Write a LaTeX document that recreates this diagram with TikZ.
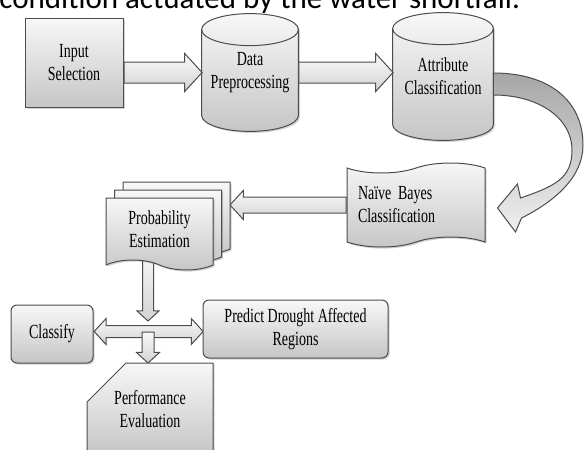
\documentclass[tikz,border=0pt]{standalone}
\usepackage{fontspec}
\setmainfont{Liberation Serif}[FakeStretch=0.7]
\newfontfamily\notefont{Carlito}
\usetikzlibrary{shapes.geometric, shapes.symbols, shapes.arrows, shapes.misc, calc, shadows, backgrounds}
\tikzset{
  shade/.style={draw=black!70, line width=0.5pt, top color=gray!6, bottom color=gray!45,
    drop shadow={shadow xshift=0.8pt, shadow yshift=-0.8pt, opacity=0.35}},
  box/.style={shade, font=\fontsize{10}{11.5}\selectfont, align=center, inner sep=2pt},
  rbox/.style={box, rectangle, rounded corners=3pt},
  drum/.style={rectangle, font=\fontsize{10}{11.5}\selectfont, align=center, inner sep=0pt},
  wave/.style={box, tape, tape bend height=5pt},
  page/.style={wave, tape bend top=none, tape bend bottom=out and in, minimum width=53.5pt, minimum height=36pt},
  blk/.style={single arrow, draw=black!70, line width=0.5pt, top color=gray!4, bottom color=gray!35,
    inner xsep=0pt, single arrow tip angle=95},
  dblk/.style={double arrow, draw=black!70, line width=0.5pt, top color=gray!4, bottom color=gray!35,
    inner xsep=0pt, double arrow tip angle=95},
  curl/.style={draw=black!70, line width=0.5pt, top color=gray!70, bottom color=gray!12}
}
\newcommand\drumshape[1]{%
  \path[shade] let \p1=(#1.north west), \p2=(#1.south east), \n1={(\x2-\x1)/2} in
    (\x1,\y1-8pt) -- (\x1,\y2+8pt) arc[start angle=180, end angle=360, x radius=\n1, y radius=8pt]
    -- (\x2,\y1-8pt) arc[start angle=0, end angle=180, x radius=\n1, y radius=8pt] -- cycle;
  \path[draw=black!70, line width=0.5pt] let \p1=(#1.north west), \p2=(#1.north east), \n1={(\x2-\x1)/2} in
    (\x1,\y1-8pt) arc[start angle=180, end angle=360, x radius=\n1, y radius=8pt];}
\newcommand\blockarrow[3][]{%
  \path let \p1=(#2), \p2=(#3), \n1={veclen(\x2-\x1,\y2-\y1)}, \n2={atan2(\y2-\y1,\x2-\x1)}
    in node[blk, #1, minimum height=\n1, rotate=\n2, anchor=tail] at (\p1) {};}

\begin{document}
\begin{tikzpicture}[x=0.5pt, y=-0.5pt]
  \useasboundingbox (0,0) rectangle (584,450);
  \node[anchor=base west, inner sep=0pt, font=\notefont\fontsize{15.5}{18}\selectfont] (note) at (-1,8)
    {condition actuated by the water shortfall.};
  \node[box, rectangle, minimum width=49pt, minimum height=44.5pt] (inp) at (74,62.5) {Input\\Selection};
  \node[drum, minimum width=48pt, minimum height=58.5pt] (dp) at (250,72.5) {Data\\Preprocessing};
  \node[drum, minimum width=50pt, minimum height=63.5pt] (ac) at (443,76.5) {Attribute\\Classification};
  \node[wave, tape bend top=in and out, tape bend bottom=in and out, minimum width=69pt, minimum height=42pt,
    text width=58pt, align=left] (nb) at (416,205) {Naïve Bayes\\Classification};
  \node[page] (pe3) at (176.5,213) {};
  \node[page] (pe2) at (168,221) {};
  \node[page] (pe) at (159.5,229) {Probability\\Estimation};
  \node[rbox, minimum width=41pt, minimum height=29pt] (cls) at (52,334) {Classify};
  \node[rbox, minimum width=92.5pt, minimum height=29pt] (pdr) at (295.5,329) {Predict Drought Affected\\Regions};
  \node[box, chamfered rectangle, chamfered rectangle corners=north west, chamfered rectangle xsep=10pt,
    chamfered rectangle ysep=9.5pt, minimum width=63pt, minimum height=46pt] (pev) at (150,409) {Performance\\Evaluation};
  \coordinate (hub) at ($(cls.east)!0.5!(pdr.west)$);
  \begin{scope}[on background layer]
    \drumshape{dp}
    \drumshape{ac}
    \blockarrow[inner ysep=5pt, single arrow head extend=4.25pt]{inp.east |- dp.west}{dp.west}
    \blockarrow[inner ysep=5pt, single arrow head extend=4.25pt]{dp.east}{dp.east -| ac.west}
    \blockarrow[inner ysep=3.75pt, single arrow head extend=3.25pt]{nb.west}{nb.west -| pe3.east}
    \path let \p1=(cls.east |- hub), \p2=(hub -| pdr.west), \n1={veclen(\x2-\x1,\y2-\y1)} in
      node[dblk, inner ysep=2.75pt, double arrow head extend=3.5pt, minimum height=\n1, anchor=west] (cross) at (\p1) {};
    \blockarrow[inner ysep=2.75pt, single arrow head extend=2.75pt]{hub}{hub |- pev.north}
    \blockarrow[inner ysep=2.5pt, single arrow head extend=2.75pt]{$(hub |- pe.south)+(0,-12)$}{$(hub)+(0,-11)$}
    \draw[curl] ($(ac.east)+(0,-3.5)$) .. controls +(55,0) and +(0,-45) .. (583,145)
      .. controls +(0,35) and +(28,-14) .. ($(nb.east)+(36,13)$) -- ($(nb.east)+(30,27)$) -- ($(nb.east)+(12,3)$)
      -- ($(nb.east)+(32,-21)$) -- ($(nb.east)+(35,-7)$) .. controls +(35,-12) and +(0,28) .. (572,150)
      .. controls +(0,-32) and +(45,0) .. ($(ac.east)+(0,18.5)$) -- cycle;
  \end{scope}
\end{tikzpicture}
\end{document}
